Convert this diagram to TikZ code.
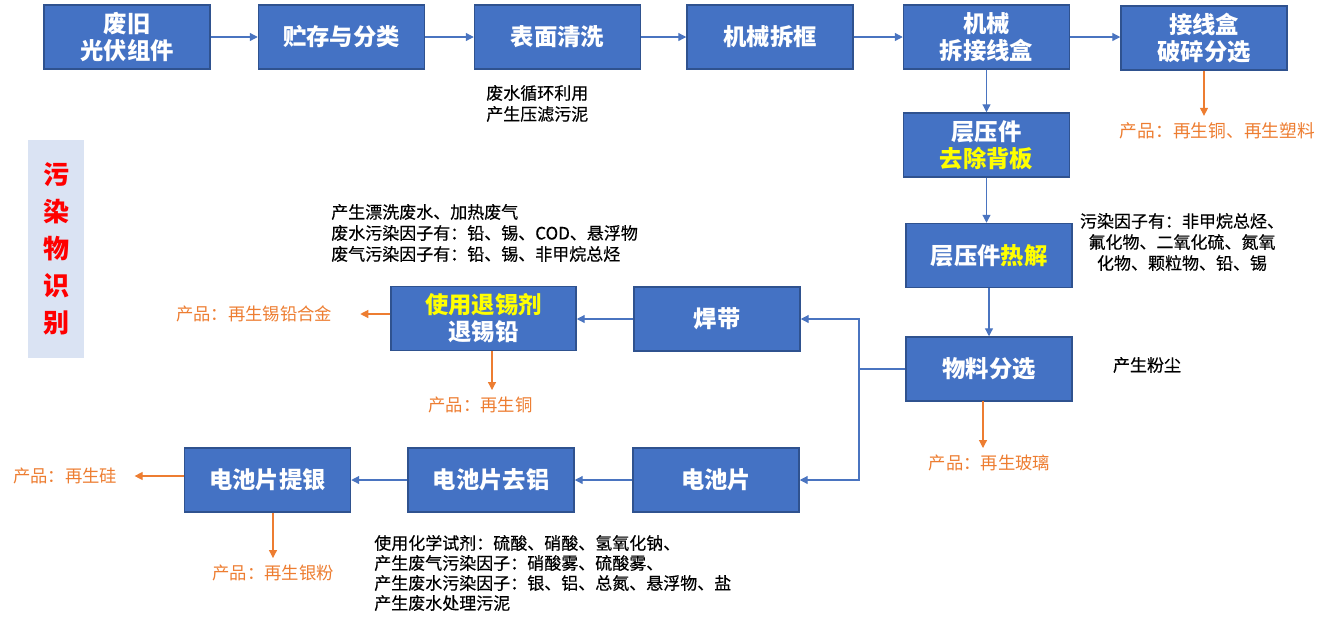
\documentclass[tikz,border=0pt]{standalone}
\usepackage{fontspec}
\setmainfont{Noto Sans CJK SC}
\newfontfamily\notefont[FakeBold=0.4]{Noto Sans CJK SC}
\usetikzlibrary{arrows.meta,calc}
\definecolor{boxblue}{HTML}{4472C4}
\definecolor{boxedge}{HTML}{2F528F}
\definecolor{lineblue}{HTML}{4A74C0}
\definecolor{orng}{HTML}{ED7D31}
\definecolor{side}{HTML}{DAE3F3}
\definecolor{ylw}{HTML}{FFFF00}
\begin{document}
\begin{tikzpicture}[x=0.75pt,y=-0.75pt,
 stage/.style={draw=boxedge, line width=1.1pt, fill=boxblue, text=white,
   font=\fontsize{17.5}{20.25}\selectfont\bfseries, align=center,
   minimum width=124.5pt, minimum height=48pt, inner sep=0pt},
 flow/.style={draw=lineblue, line width=0.9pt, -{Triangle[width=6pt,length=6pt]}},
 plainflow/.style={draw=lineblue, line width=0.9pt},
 oflow/.style={draw=orng, line width=0.9pt, -{Triangle[width=6pt,length=6pt]}},
 note/.style={font=\notefont\fontsize{12.75}{15.75}\selectfont, align=left, inner sep=0pt},
 prod/.style={text=orng, font=\fontsize{13}{15}\selectfont, inner xsep=0pt, inner ysep=5pt},
 bigprod/.style={prod, font=\fontsize{13.3}{16}\selectfont},
]
\useasboundingbox (0,0) rectangle (1328,629);

% side label
\node[fill=side, minimum width=42pt, minimum height=163.5pt, text=red,
  font=\fontsize{19.5}{27.75}\selectfont\bfseries, align=center, inner sep=0pt]
  (side) at (56,249) {污\\染\\物\\识\\别};

% top row
\node[stage] (a1) at (127,37) {废旧\\光伏组件};
\node[stage] (a2) at (341.5,37) {贮存与分类};
\node[stage] (a3) at (557.5,37) {表面清洗};
\node[stage] (a4) at (770,37) {机械拆框};
\node[stage] (a5) at (986.5,37) {机械\\拆接线盒};
\node[stage] (a6) at (1204,38) {接线盒\\破碎分选};

% right column
\node[stage] (b1) at (986.5,145) {层压件\\\textcolor{ylw}{去除背板}};
\node[stage] (b2) at (989,255.5) {层压件\textcolor{ylw}{热解}};
\node[stage] (b3) at (989,369) {物料分选};

% middle row
\node[stage] (c1) at (717,319) {焊带};
\node[stage, minimum width=138.75pt] (c2) at (483.5,318.5) {\textcolor{ylw}{使用退锡剂}\\退锡铅};

% bottom row
\node[stage] (d1) at (716,480) {电池片};
\node[stage] (d2) at (491,480) {电池片去铝};
\node[stage] (d3) at (267.5,480) {电池片提银};

% notes
\node[note, anchor=west] (n1) at (486,103.5) {废水循环利用\\产生压滤污泥};
\node[note, anchor=west] (n2) at (331,233) {产生漂洗废水、加热废气\\废水污染因子有：铅、锡、COD、悬浮物\\废气污染因子有：铅、锡、非甲烷总烃};
\node[note, align=center] (n3) at (1182,242) {污染因子有：非甲烷总烃、\\氟化物、二氧化硫、氮氧\\化物、颗粒物、铅、锡};
\node[note] (n4) at (1147,365) {产生粉尘};
\node[note, anchor=west, font=\notefont\fontsize{12.75}{15}\selectfont] (n5) at (374,573) {使用化学试剂：硫酸、硝酸、氢氧化钠、\\产生废气污染因子：硝酸雾、硫酸雾、\\产生废水污染因子：银、铝、总氮、悬浮物、盐\\产生废水处理污泥};

% products
\node[bigprod] (p1) at (1217.5,131) {产品：再生铜、再生塑料};
\node[prod, inner xsep=21pt] (p2) at (254,314) {产品：再生锡铅合金};
\node[prod] (p3) at (480.5,405) {产品：再生铜};
\node[prod] (p4) at (989.5,463) {产品：再生玻璃};
\node[prod] (p5) at (273,573) {产品：再生银粉};
\node[prod, inner xsep=13pt] (p6) at (65,476) {产品：再生硅};

% flow connectors
\draw[flow] (a1) -- (a2);
\draw[flow] (a2) -- (a3);
\draw[flow] (a3) -- (a4);
\draw[flow] (a4) -- (a5);
\draw[flow] (a5.east) -- (a5.east -| a6.west);
\draw[flow] (a5) -- (b1);
\draw[flow] (b1.south) -- (b1.south |- b2.north);
\draw[flow] (b2.south) -- (b2.south |- b3.north);
\coordinate (j) at (859,369);
\draw[plainflow] (b3.west) -- (j);
\draw[flow] (j) |- (c1.east);
\draw[flow] (j) |- (d1.east);
\draw[flow] (c1.west) -- (c1.west -| c2.east);
\draw[flow] (d1) -- (d2);
\draw[flow] (d2) -- (d3);

% product connectors
\draw[oflow] (a6.south) -- (a6.south |- p1.north);
\draw[oflow] (c2.west |- p2.east) -- (p2.east);
\coordinate (c2o) at (492,351);
\draw[oflow] (c2o) -- (c2o |- p3.north);
\coordinate (b3o) at (983,401);
\draw[oflow] (b3o) -- (b3o |- p4.north);
\draw[oflow] (p5.north |- d3.south) -- (p5.north);
\draw[oflow] (d3.west |- p6.east) -- (p6.east);
\end{tikzpicture}
\end{document}
